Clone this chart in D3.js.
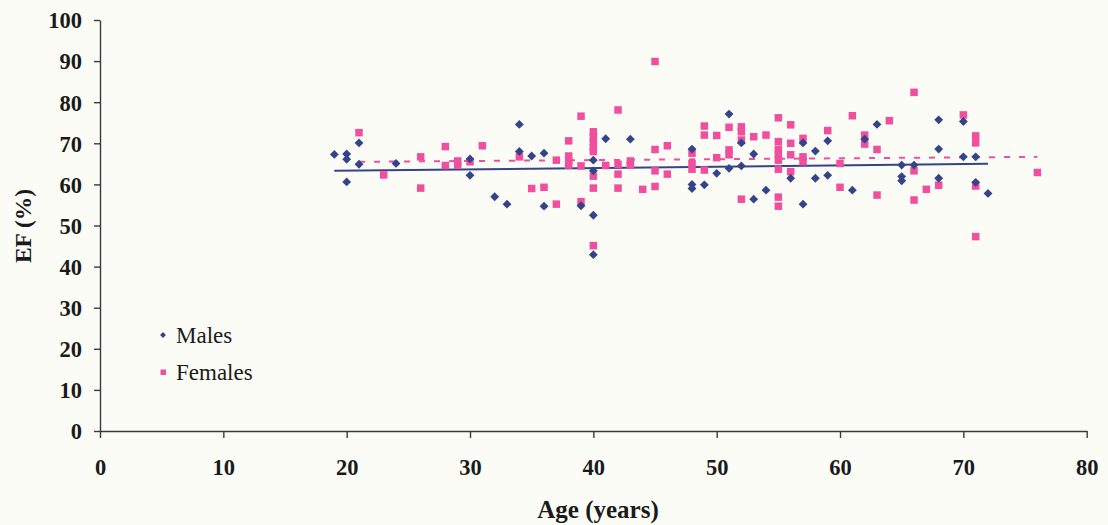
<!DOCTYPE html>
<html>
<head>
<meta charset="utf-8">
<script src="https://cdn.jsdelivr.net/npm/d3@7"></script>
<style>
  html, body { margin: 0; padding: 0; background: #fcfcf7; }
  svg { display: block; }
</style>
</head>
<body>
<svg id="chart" width="1108" height="525"></svg>
<script>
// ---- Data (age in years, EF in %) ----
const maleAge = [19,20,20,20,21,21,24,30,30,32,33,
  34,34,35,36,36,39,40,40,40,40,41,43,48,48,48,
  49,50,51,51,52,52,53,53,54,56,57,57,58,58,59,59,61,62,63,
  65,65,65,66,68,68,68,70,70,71,71,72];
const maleEF = [67.3,67.4,66.1,60.6,70.1,64.9,65.1,66.2,62.2,57.0,55.2,
  74.6,68.0,66.9,67.6,54.7,54.8,65.9,63.3,52.5,42.9,71.1,71.0,68.6,60.0,59.0,
  59.9,62.7,77.1,63.9,70.1,64.5,67.4,56.4,58.6,61.5,70.1,55.2,68.1,61.5,70.6,62.2,58.6,71.0,74.6,
  64.7,61.9,60.9,64.7,75.7,68.6,61.5,75.3,66.7,66.7,60.5,57.8];

const femaleAge = [21,23,26,26,28,28,29,29,30,31,
  34,35,36,37,37,38,38,38,38,39,39,39,
  40,40,40,40,40,40,40,40,41,42,42,42,42,43,43,44,45,45,45,45,46,46,48,48,48,
  49,49,49,50,50,51,51,51,52,52,52,52,53,54,
  55,55,55,55,55,55,55,55,56,56,56,56,57,57,57,59,60,60,61,62,62,63,63,
  64,66,66,66,67,68,70,71,71,71,71,76];
const femaleEF = [72.6,62.3,66.7,59.1,69.2,64.6,65.7,64.7,65.5,69.4,
  66.7,59.0,59.3,65.9,55.2,70.6,66.9,65.7,64.7,76.6,64.5,55.8,
  72.8,71.5,70.3,69.0,68.0,62.0,59.1,45.1,64.6,78.1,64.9,62.5,59.1,65.7,64.7,58.8,89.9,68.5,63.3,59.5,69.4,62.5,67.6,65.1,63.7,
  74.2,72.0,63.5,71.9,66.5,73.9,68.4,67.2,74.0,72.8,70.8,56.4,71.6,72.0,
  76.2,70.4,68.5,67.2,65.9,63.7,56.9,54.7,74.5,70.0,67.2,63.1,71.2,66.7,65.5,73.1,65.1,59.3,76.7,72.0,69.8,68.5,57.4,
  75.5,82.4,63.3,56.2,58.8,59.8,76.9,71.8,70.1,59.6,47.3,62.9];

// trend lines (endpoints)
const maleTrendAge = [19, 72];
const maleTrendEF = [63.3, 65.0];
const femaleTrendAge = [21, 76];
const femaleTrendEF = [65.5, 66.7];

const xTicks = [0,10,20,30,40,50,60,70,80];
const yTicks = [0,10,20,30,40,50,60,70,80,90,100];
const seriesNames = ["Males", "Females"];

// ---- Layout ----
const MALE_COLOR = "#34438a";
const FEMALE_COLOR = "#ef4f9c";
const svg = d3.select("#chart");
const x = d3.scaleLinear().domain([0, 80]).range([100, 1086.7]);
const y = d3.scaleLinear().domain([0, 100]).range([431, 20]);

const font = "'Liberation Serif', 'Times New Roman', serif";

// Axes
const xAxis = d3.axisBottom(x).tickValues(xTicks).tickSize(7).tickPadding(21).tickSizeOuter(0);
const yAxis = d3.axisLeft(y).tickValues(yTicks).tickSize(6).tickPadding(12).tickSizeOuter(0);

const gx = svg.append("g").attr("transform", `translate(0,${y(0)})`).call(xAxis);
const gy = svg.append("g").attr("transform", `translate(${x(0)},0)`).call(yAxis);
[gx, gy].forEach(g => {
  g.select(".domain").attr("stroke", "#3a3a3a").attr("stroke-width", 1.4);
  g.selectAll(".tick line").attr("stroke", "#3a3a3a").attr("stroke-width", 1.4);
  g.selectAll(".tick text")
    .attr("fill", "#1a1a1a")
    .style("font-family", font)
    .style("font-weight", "bold")
    .style("font-size", "22.5px");
});
gy.selectAll(".tick text").attr("dy", "0.35em");

// Axis titles
svg.append("text")
  .attr("x", 598).attr("y", 518)
  .attr("text-anchor", "middle")
  .style("font-family", font).style("font-weight", "bold").style("font-size", "25px")
  .attr("fill", "#1a1a1a")
  .text("Age (years)");
svg.append("text")
  .attr("transform", `translate(31,226) rotate(-90)`)
  .attr("text-anchor", "middle")
  .style("font-family", font).style("font-weight", "bold").style("font-size", "23.5px")
  .attr("fill", "#1a1a1a")
  .text("EF (%)");

// Trend lines
const line = d3.line().x(d => x(d[0])).y(d => y(d[1]));
svg.append("path")
  .datum(femaleTrendAge.map((a, i) => [a, femaleTrendEF[i]]))
  .attr("d", line).attr("fill", "none")
  .attr("stroke", FEMALE_COLOR).attr("stroke-width", 2)
  .attr("stroke-dasharray", "6,9");
svg.append("path")
  .datum(maleTrendAge.map((a, i) => [a, maleTrendEF[i]]))
  .attr("d", line).attr("fill", "none")
  .attr("stroke", MALE_COLOR).attr("stroke-width", 2);

// Female squares
const sq = 7.5;
svg.append("g").selectAll("rect")
  .data(femaleAge.map((a, i) => [a, femaleEF[i]]))
  .join("rect")
  .attr("x", d => x(d[0]) - sq / 2)
  .attr("y", d => y(d[1]) - sq / 2)
  .attr("width", sq).attr("height", sq)
  .attr("fill", FEMALE_COLOR);

// Male diamonds
const diamond = d3.symbol().type(d3.symbolDiamond2).size(50);
svg.append("g").selectAll("path")
  .data(maleAge.map((a, i) => [a, maleEF[i]]))
  .join("path")
  .attr("d", diamond)
  .attr("transform", d => `translate(${x(d[0])},${y(d[1])})`)
  .attr("fill", MALE_COLOR);

// Legend
const leg = svg.append("g");
leg.append("path")
  .attr("d", d3.symbol().type(d3.symbolDiamond2).size(22))
  .attr("transform", "translate(163,335)")
  .attr("fill", MALE_COLOR);
leg.append("rect")
  .attr("x", 160.5).attr("y", 369.5).attr("width", 5.5).attr("height", 5.5)
  .attr("fill", FEMALE_COLOR);
leg.selectAll("text")
  .data(seriesNames)
  .join("text")
  .attr("x", 176)
  .attr("y", (d, i) => 343 + i * 37)
  .style("font-family", font).style("font-size", "23px")
  .attr("fill", "#1a1a1a")
  .text(d => d);
</script>
</body>
</html>
